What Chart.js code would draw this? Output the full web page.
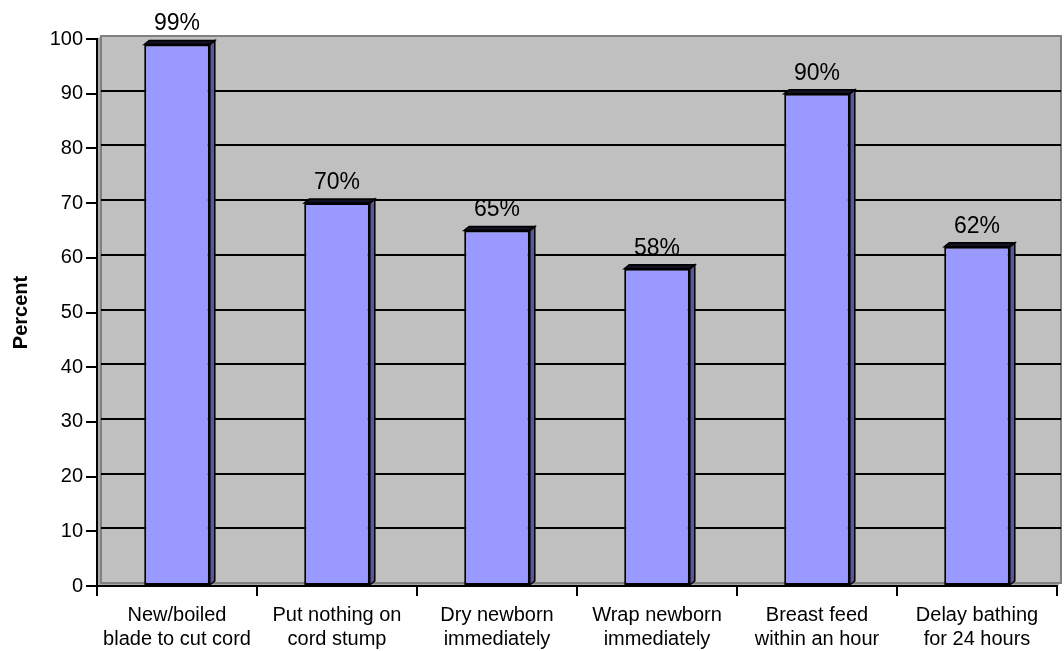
<!DOCTYPE html>
<html>
<head>
<meta charset="utf-8">
<title>Newborn care practices</title>
<script src="https://cdn.jsdelivr.net/npm/chart.js@4/dist/chart.umd.min.js"></script>
<style>
  html, body { margin: 0; padding: 0; background: #ffffff; }
  #wrap { width: 1064px; height: 651px; }
</style>
</head>
<body>
<div id="wrap"><canvas id="chart" width="1064" height="651"></canvas></div>
<script>
// Practice categories (two-line labels) and the share of respondents for each
const categories = [
  ["New/boiled", "blade to cut cord"],
  ["Put nothing on", "cord stump"],
  ["Dry newborn", "immediately"],
  ["Wrap newborn", "immediately"],
  ["Breast feed", "within an hour"],
  ["Delay bathing", "for 24 hours"]
];
const percentValues = [99, 70, 65, 58, 90, 62];
const yTickValues = [0, 10, 20, 30, 40, 50, 60, 70, 80, 90, 100];
const yAxisTitle = "Percent";

const FONT = "'Liberation Sans', Arial, Helvetica, sans-serif";

// Depth of the pseudo-3D walls and columns
const WALL_DX = 4, WALL_DY = -3;
const BAR_DX = 5, BAR_DY = -4;

// Back wall, left wall, floor and back-wall gridlines
const wallPlugin = {
  id: 'wall3d',
  beforeDraw(chart) {
    const { ctx, chartArea: a, scales: { y } } = chart;
    const L = a.left, R = a.right, T = a.top, B = a.bottom;
    ctx.save();
    // back wall
    ctx.fillStyle = '#c0c0c0';
    ctx.fillRect(L + WALL_DX, T + WALL_DY, R - L, B - T);
    // left side wall
    ctx.fillStyle = '#a8a8a8';
    ctx.beginPath();
    ctx.moveTo(L, T); ctx.lineTo(L + WALL_DX, T + WALL_DY);
    ctx.lineTo(L + WALL_DX, B + WALL_DY); ctx.lineTo(L, B);
    ctx.closePath(); ctx.fill();
    // floor
    ctx.beginPath();
    ctx.moveTo(L, B); ctx.lineTo(L + WALL_DX, B + WALL_DY);
    ctx.lineTo(R + WALL_DX, B + WALL_DY); ctx.lineTo(R, B);
    ctx.closePath(); ctx.fill();
    // wall outlines
    ctx.strokeStyle = '#808080';
    ctx.lineWidth = 2;
    ctx.strokeRect(L + WALL_DX, T + WALL_DY, R - L, B - T);
    // gridlines on the back wall
    ctx.strokeStyle = '#000000';
    ctx.lineWidth = 2;
    yTickValues.forEach(v => {
      if (v === y.min || v === y.max) return;
      const py = Math.round(y.getPixelForValue(v) + WALL_DY);
      ctx.beginPath();
      ctx.moveTo(L + WALL_DX, py);
      ctx.lineTo(R + WALL_DX, py);
      ctx.stroke();
    });
    ctx.restore();
  }
};

// Side and top faces of each column, plus the value labels
const columnPlugin = {
  id: 'column3d',
  afterDatasetsDraw(chart) {
    const { ctx } = chart;
    const meta = chart.getDatasetMeta(0);
    ctx.save();
    meta.data.forEach((bar, i) => {
      const { x, y, base, width } = bar.getProps(['x', 'y', 'base', 'width'], true);
      const left = x - width / 2, right = x + width / 2;
      ctx.lineWidth = 1.5;
      ctx.strokeStyle = '#000000';
      // right side face
      ctx.fillStyle = '#58589a';
      ctx.beginPath();
      ctx.moveTo(right, y); ctx.lineTo(right + BAR_DX, y + BAR_DY);
      ctx.lineTo(right + BAR_DX, base + BAR_DY); ctx.lineTo(right, base);
      ctx.closePath(); ctx.fill(); ctx.stroke();
      // top face
      ctx.fillStyle = '#111122';
      ctx.beginPath();
      ctx.moveTo(left, y); ctx.lineTo(left + BAR_DX, y + BAR_DY);
      ctx.lineTo(right + BAR_DX, y + BAR_DY); ctx.lineTo(right, y);
      ctx.closePath(); ctx.fill(); ctx.stroke();
      // value label
      ctx.fillStyle = '#000000';
      ctx.font = `23px ${FONT}`;
      ctx.textAlign = 'center';
      ctx.textBaseline = 'alphabetic';
      ctx.fillText(percentValues[i] + '%', x, y - 14);
    });
    ctx.restore();
  }
};

new Chart(document.getElementById('chart'), {
  type: 'bar',
  data: {
    labels: categories,
    datasets: [{
      data: percentValues,
      backgroundColor: '#9999ff',
      borderColor: '#000000',
      borderWidth: 2,
      borderSkipped: false,
      barPercentage: 0.41,
      categoryPercentage: 1.0
    }]
  },
  options: {
    responsive: false,
    animation: false,
    events: [],
    layout: { padding: { left: 9, right: 7, top: 39, bottom: 0 } },
    plugins: {
      legend: { display: false },
      tooltip: { enabled: false }
    },
    scales: {
      x: {
        offset: true,
        grid: {
          offset: true,
          drawOnChartArea: false,
          drawTicks: true,
          tickLength: 10,
          color: '#000000',
          lineWidth: 2
        },
        border: { display: true, color: '#000000', width: 2 },
        ticks: {
          color: '#000000',
          font: { family: FONT, size: 20, lineHeight: 1.2 },
          padding: 7,
          maxRotation: 0,
          autoSkip: false
        },
        afterFit(scale) { scale.height = 65; }
      },
      y: {
        min: 0,
        max: 100,
        afterBuildTicks(scale) { scale.ticks = yTickValues.map(v => ({ value: v })); },
        grid: {
          drawOnChartArea: false,
          drawTicks: true,
          tickLength: 11,
          color: '#000000',
          lineWidth: 2
        },
        border: { display: true, color: '#000000', width: 2 },
        ticks: {
          color: '#000000',
          font: { family: FONT, size: 20 },
          padding: 3
        },
        title: {
          display: true,
          text: yAxisTitle,
          color: '#000000',
          font: { family: FONT, size: 20, weight: 'bold', lineHeight: 1.2 },
          padding: 0
        },
        afterFit(scale) { scale.width = 88; }
      }
    }
  },
  plugins: [wallPlugin, columnPlugin]
});
</script>
</body>
</html>
